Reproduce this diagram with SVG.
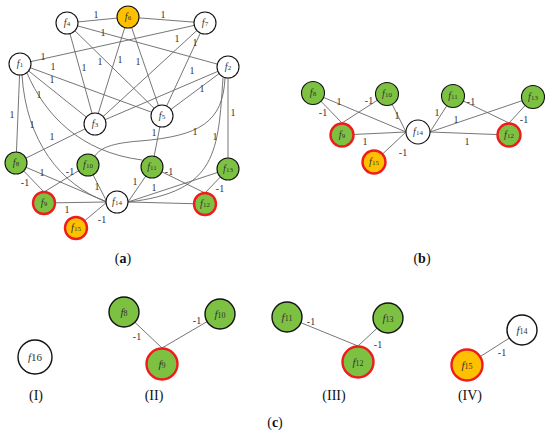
<svg xmlns="http://www.w3.org/2000/svg" width="550" height="437" viewBox="0 0 550 437">
<style>
.e{stroke:#666;stroke-width:0.9;fill:none}
.n{stroke:#111;stroke-width:1.1;fill:#fff}
.n2{stroke:#111;stroke-width:1.4;fill:#fff}
.g{fill:#7DC143}
.o{fill:#FFC000}
.r{stroke:#EE1C1C;stroke-width:2.4}
.t{font-family:"Liberation Serif",serif;fill:#333;text-anchor:middle}
.f{font-style:italic}
.lb{font-family:"Liberation Serif",serif;font-size:10px;fill:#333;text-anchor:middle}
.cap{font-family:"Liberation Serif",serif;font-size:14px;fill:#111;text-anchor:middle}
</style>
<rect width="550" height="437" fill="#fff"/>
<g id="connectors">
<line class="e" x1="67" y1="23" x2="128" y2="17"/>
<line class="e" x1="128" y1="17" x2="205" y2="23"/>
<line class="e" x1="67" y1="23" x2="228" y2="67"/>
<line class="e" x1="67" y1="23" x2="162" y2="116"/>
<line class="e" x1="67" y1="23" x2="95" y2="124"/>
<line class="e" x1="128" y1="17" x2="95" y2="124"/>
<line class="e" x1="128" y1="17" x2="162" y2="116"/>
<line class="e" x1="205" y1="23" x2="95" y2="124"/>
<line class="e" x1="205" y1="23" x2="162" y2="116"/>
<line class="e" x1="205" y1="23" x2="20" y2="64"/>
<line class="e" x1="20" y1="64" x2="162" y2="116"/>
<line class="e" x1="20" y1="64" x2="95" y2="124"/>
<line class="e" x1="20" y1="64" x2="16" y2="163"/>
<line class="e" x1="228" y1="67" x2="95" y2="124"/>
<line class="e" x1="228" y1="67" x2="162" y2="116"/>
<line class="e" x1="228" y1="67" x2="228" y2="169"/>
<line class="e" x1="95" y1="124" x2="16" y2="163"/>
<line class="e" x1="162" y1="116" x2="152" y2="167"/>
<path class="e" d="M22,75 C26,140 60,185 107,202"/>
<path class="e" d="M27,73 C45,115 80,152 142,160"/>
<path class="e" d="M223,78 C218,150 218,192 128,202"/>
<path class="e" d="M225,78 C223,122 200,136 140,141 C112,143 100,148 95,156"/>
<line class="e" x1="16" y1="163" x2="107" y2="202"/>
<line class="e" x1="16" y1="163" x2="44" y2="192"/>
<line class="e" x1="88" y1="165" x2="44" y2="192"/>
<line class="e" x1="88" y1="165" x2="107" y2="202"/>
<line class="e" x1="152" y1="167" x2="128" y2="202"/>
<line class="e" x1="152" y1="167" x2="205" y2="193"/>
<line class="e" x1="228" y1="169" x2="128" y2="202"/>
<line class="e" x1="228" y1="169" x2="205" y2="193"/>
<line class="e" x1="44" y1="203" x2="107" y2="202"/>
<line class="e" x1="107" y1="202" x2="76" y2="228"/>
<line class="e" x1="128" y1="202" x2="205" y2="204"/>
<line class="e" x1="313" y1="93" x2="342" y2="123"/>
<line class="e" x1="313" y1="93" x2="406" y2="132"/>
<line class="e" x1="387" y1="94" x2="342" y2="123"/>
<line class="e" x1="387" y1="94" x2="406" y2="132"/>
<line class="e" x1="342" y1="135" x2="406" y2="132"/>
<line class="e" x1="406" y1="132" x2="374" y2="162"/>
<line class="e" x1="453" y1="96" x2="430" y2="132"/>
<line class="e" x1="533" y1="97" x2="430" y2="132"/>
<line class="e" x1="453" y1="96" x2="509" y2="123"/>
<line class="e" x1="533" y1="97" x2="509" y2="123"/>
<line class="e" x1="430" y1="132" x2="509" y2="135"/>
<line class="e" x1="124" y1="312" x2="162" y2="348"/>
<line class="e" x1="220" y1="314" x2="162" y2="348"/>
<line class="e" x1="287" y1="317" x2="358" y2="346"/>
<line class="e" x1="388" y1="318" x2="358" y2="346"/>
<line class="e" x1="522" y1="330" x2="467" y2="365"/>
</g>
<g id="edge-labels">
<text class="lb" x="96" y="18">1</text>
<text class="lb" x="163" y="18">1</text>
<text class="lb" x="103" y="36">1</text>
<text class="lb" x="100" y="65">1</text>
<text class="lb" x="84" y="71">1</text>
<text class="lb" x="120" y="63">1</text>
<text class="lb" x="138" y="65">1</text>
<text class="lb" x="177" y="42">1</text>
<text class="lb" x="195" y="46">1</text>
<text class="lb" x="43" y="60">1</text>
<text class="lb" x="53" y="70">1</text>
<text class="lb" x="52" y="83">1</text>
<text class="lb" x="39" y="98">1</text>
<text class="lb" x="192" y="74">1</text>
<text class="lb" x="202" y="92">1</text>
<text class="lb" x="233" y="116">1</text>
<text class="lb" x="12" y="118">1</text>
<text class="lb" x="32" y="128">1</text>
<text class="lb" x="52" y="140">1</text>
<text class="lb" x="154" y="136">1</text>
<text class="lb" x="195" y="135">1</text>
<text class="lb" x="215" y="140">1</text>
<text class="lb" x="42" y="176">1</text>
<text class="lb" x="25" y="186">-1</text>
<text class="lb" x="70" y="175">-1</text>
<text class="lb" x="97" y="190">1</text>
<text class="lb" x="135" y="185">1</text>
<text class="lb" x="169" y="175">-1</text>
<text class="lb" x="154" y="191">1</text>
<text class="lb" x="220" y="192">-1</text>
<text class="lb" x="67" y="213">1</text>
<text class="lb" x="102" y="223">-1</text>
<text class="lb" x="323" y="116">-1</text>
<text class="lb" x="339" y="105">1</text>
<text class="lb" x="369" y="104">-1</text>
<text class="lb" x="397" y="119">1</text>
<text class="lb" x="365" y="145">1</text>
<text class="lb" x="403" y="156">-1</text>
<text class="lb" x="437" y="116">1</text>
<text class="lb" x="456" y="123">1</text>
<text class="lb" x="471" y="105">-1</text>
<text class="lb" x="524" y="123">-1</text>
<text class="lb" x="467" y="145">1</text>
<text class="lb" x="137" y="340">-1</text>
<text class="lb" x="197" y="324">-1</text>
<text class="lb" x="311" y="325">-1</text>
<text class="lb" x="378" y="348">-1</text>
<text class="lb" x="502" y="356">-1</text>
</g>
<g id="a-f4"><circle class="n" cx="67" cy="23" r="11"/><text class="t" x="67" y="26" font-size="10"><tspan class="f">f</tspan><tspan font-size="7">4</tspan></text></g>
<g id="a-f6"><circle class="n o" cx="128" cy="17" r="11"/><text class="t" x="128" y="20" font-size="10"><tspan class="f">f</tspan><tspan font-size="7">6</tspan></text></g>
<g id="a-f7"><circle class="n" cx="205" cy="23" r="11"/><text class="t" x="205" y="26" font-size="10"><tspan class="f">f</tspan><tspan font-size="7">7</tspan></text></g>
<g id="a-f1"><circle class="n" cx="20" cy="64" r="11"/><text class="t" x="20" y="67" font-size="10"><tspan class="f">f</tspan><tspan font-size="7">1</tspan></text></g>
<g id="a-f2"><circle class="n" cx="228" cy="67" r="11"/><text class="t" x="228" y="70" font-size="10"><tspan class="f">f</tspan><tspan font-size="7">2</tspan></text></g>
<g id="a-f3"><circle class="n" cx="95" cy="124" r="11"/><text class="t" x="95" y="127" font-size="10"><tspan class="f">f</tspan><tspan font-size="7">3</tspan></text></g>
<g id="a-f5"><circle class="n" cx="162" cy="116" r="11"/><text class="t" x="162" y="119" font-size="10"><tspan class="f">f</tspan><tspan font-size="7">5</tspan></text></g>
<g id="a-f8"><circle class="n g" cx="16" cy="163" r="11"/><text class="t" x="16" y="166" font-size="10"><tspan class="f">f</tspan><tspan font-size="7">8</tspan></text></g>
<g id="a-f10"><circle class="n g" cx="88" cy="165" r="11"/><text class="t" x="88" y="168" font-size="10"><tspan class="f">f</tspan><tspan font-size="7">10</tspan></text></g>
<g id="a-f11"><circle class="n g" cx="152" cy="167" r="11"/><text class="t" x="152" y="170" font-size="10"><tspan class="f">f</tspan><tspan font-size="7">11</tspan></text></g>
<g id="a-f13"><circle class="n g" cx="228" cy="169" r="11"/><text class="t" x="228" y="172" font-size="10"><tspan class="f">f</tspan><tspan font-size="7">13</tspan></text></g>
<g id="a-f9"><circle class="n g r" cx="44" cy="203" r="11"/><text class="t" x="44" y="206" font-size="10"><tspan class="f">f</tspan><tspan font-size="7">9</tspan></text></g>
<g id="a-f14"><circle class="n" cx="117" cy="202" r="11"/><text class="t" x="117" y="205" font-size="10"><tspan class="f">f</tspan><tspan font-size="7">14</tspan></text></g>
<g id="a-f12"><circle class="n g r" cx="205" cy="204" r="11"/><text class="t" x="205" y="207" font-size="10"><tspan class="f">f</tspan><tspan font-size="7">12</tspan></text></g>
<g id="a-f15"><circle class="n o r" cx="76" cy="228" r="11"/><text class="t" x="76" y="231" font-size="10"><tspan class="f">f</tspan><tspan font-size="7">15</tspan></text></g>
<g id="b-f8"><circle class="n g" cx="313" cy="93" r="11.5"/><text class="t" x="313" y="96" font-size="10"><tspan class="f">f</tspan><tspan font-size="7">8</tspan></text></g>
<g id="b-f10"><circle class="n g" cx="387" cy="94" r="11.5"/><text class="t" x="387" y="97" font-size="10"><tspan class="f">f</tspan><tspan font-size="7">10</tspan></text></g>
<g id="b-f11"><circle class="n g" cx="453" cy="96" r="11.5"/><text class="t" x="453" y="99" font-size="10"><tspan class="f">f</tspan><tspan font-size="7">11</tspan></text></g>
<g id="b-f13"><circle class="n g" cx="533" cy="97" r="11.5"/><text class="t" x="533" y="100" font-size="10"><tspan class="f">f</tspan><tspan font-size="7">13</tspan></text></g>
<g id="b-f9"><circle class="n g r" cx="342" cy="135" r="11.5"/><text class="t" x="342" y="138" font-size="10"><tspan class="f">f</tspan><tspan font-size="7">9</tspan></text></g>
<g id="b-f14"><circle class="n" cx="418" cy="132" r="12"/><text class="t" x="418" y="135" font-size="10"><tspan class="f">f</tspan><tspan font-size="7">14</tspan></text></g>
<g id="b-f12"><circle class="n g r" cx="509" cy="135" r="11.5"/><text class="t" x="509" y="138" font-size="10"><tspan class="f">f</tspan><tspan font-size="7">12</tspan></text></g>
<g id="b-f15"><circle class="n o r" cx="374" cy="162" r="11.5"/><text class="t" x="374" y="165" font-size="10"><tspan class="f">f</tspan><tspan font-size="7">15</tspan></text></g>
<g id="c-f16"><circle class="n2" cx="35" cy="357" r="17"/><text class="t" x="35" y="361" font-size="11"><tspan class="f">f</tspan><tspan>16</tspan></text></g>
<g id="c-f8"><circle class="n2 g" cx="124" cy="312" r="15"/><text class="t" x="124" y="316" font-size="11"><tspan class="f">f</tspan><tspan font-size="8">8</tspan></text></g>
<g id="c-f10"><circle class="n2 g" cx="220" cy="314" r="15"/><text class="t" x="220" y="318" font-size="11"><tspan class="f">f</tspan><tspan font-size="8">10</tspan></text></g>
<g id="c-f9"><circle class="n2 g r" cx="162" cy="364" r="15.5"/><text class="t" x="162" y="368" font-size="11"><tspan class="f">f</tspan><tspan font-size="8">9</tspan></text></g>
<g id="c-f11"><circle class="n2 g" cx="287" cy="317" r="15"/><text class="t" x="287" y="321" font-size="11"><tspan class="f">f</tspan><tspan font-size="8">11</tspan></text></g>
<g id="c-f13"><circle class="n2 g" cx="388" cy="318" r="15"/><text class="t" x="388" y="322" font-size="11"><tspan class="f">f</tspan><tspan font-size="8">13</tspan></text></g>
<g id="c-f12"><circle class="n2 g r" cx="358" cy="362" r="15.5"/><text class="t" x="358" y="366" font-size="11"><tspan class="f">f</tspan><tspan font-size="8">12</tspan></text></g>
<g id="c-f14"><circle class="n2" cx="522" cy="330" r="15"/><text class="t" x="522" y="334" font-size="11"><tspan class="f">f</tspan><tspan font-size="8">14</tspan></text></g>
<g id="c-f15"><circle class="n2 o r" cx="467" cy="365" r="15.5"/><text class="t" x="467" y="369" font-size="11"><tspan class="f">f</tspan><tspan font-size="8">15</tspan></text></g>
<g id="captions">
<text class="cap" x="123" y="263" font-size="13">(<tspan font-weight="bold">a</tspan>)</text>
<text class="cap" x="422" y="263" font-size="13">(<tspan font-weight="bold">b</tspan>)</text>
<text class="cap" x="275" y="427" font-size="13">(<tspan font-weight="bold">c</tspan>)</text>
<text class="cap" x="36" y="400">(I)</text>
<text class="cap" x="154" y="400">(II)</text>
<text class="cap" x="334" y="400">(III)</text>
<text class="cap" x="470" y="400">(IV)</text>
</g>
</svg>
